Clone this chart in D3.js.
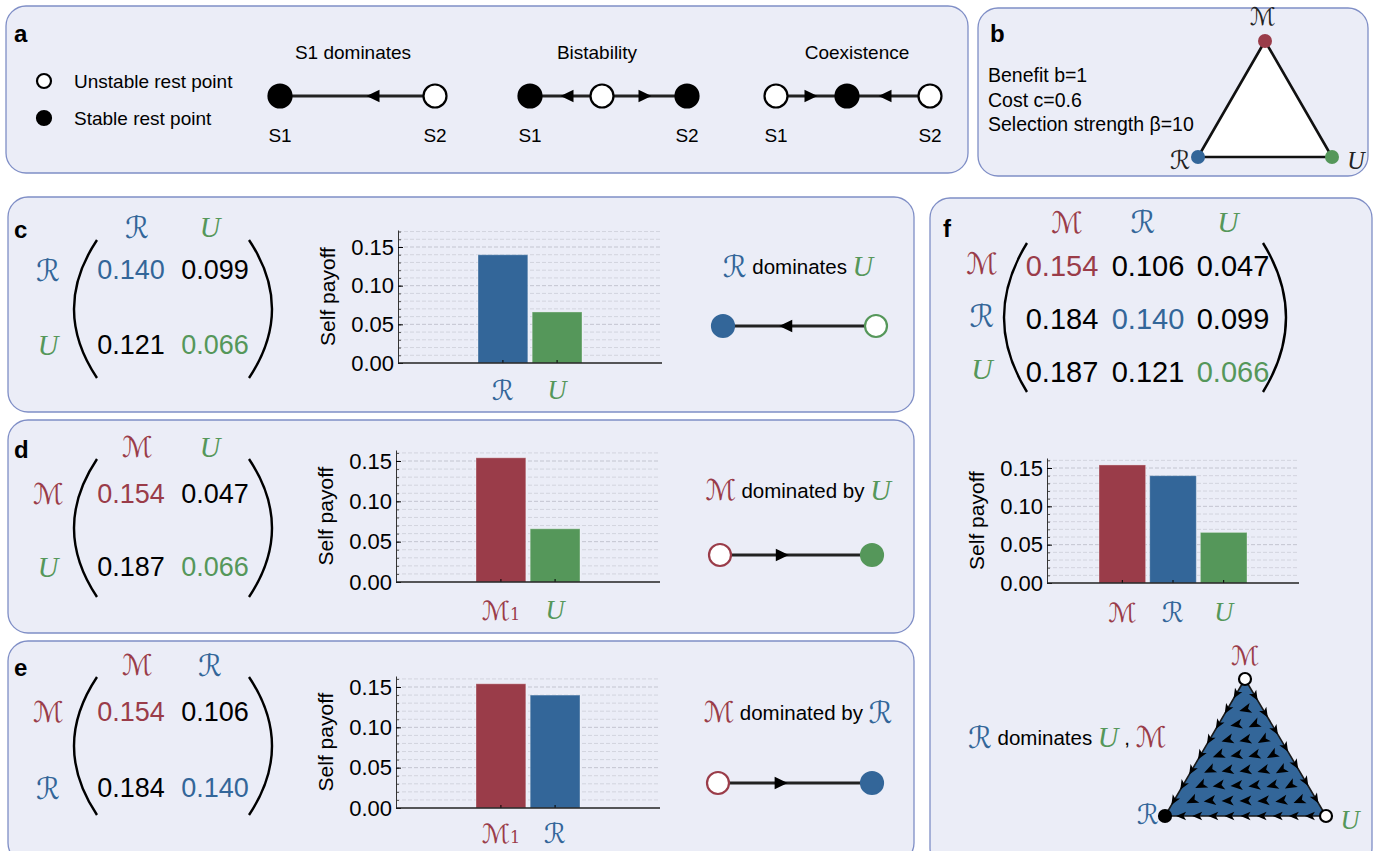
<!DOCTYPE html>
<html>
<head>
<meta charset="utf-8">
<script src="https://cdn.jsdelivr.net/npm/d3@7"></script>
<style>
  body { margin: 0; background: #fff; }
  text { font-family: "Liberation Sans", Arial, sans-serif; }
  .scr { font-family: "DejaVu Serif", "DejaVu Sans", serif; font-style: italic; }
  .scrU { font-family: "Liberation Serif", "DejaVu Serif", serif; font-style: italic; }
  .tag { font-weight: bold; font-size: 24px; }
</style>
</head>
<body>
<svg id="fig" width="1379" height="851"></svg>
<script>
"use strict";

// strategies, glyphs and colours
const strategies = ["M", "R", "U"];
const glyphs = { M: "ℳ", R: "ℛ", U: "U" };
const colours = { M: "#9a3c49", R: "#336699", U: "#55975a" };

// payoff of the row strategy against the column strategy (M, R, U)
const payoffM = [0.154, 0.106, 0.047];
const payoffR = [0.184, 0.140, 0.099];
const payoffU = [0.187, 0.121, 0.066];
const payoff = [payoffM, payoffR, payoffU];

// self payoff bars
const selfPayoff = [0.154, 0.140, 0.066];
const yTickValues = [0, 0.05, 0.10, 0.15];

const params = ["Benefit b=1", "Cost c=0.6", "Selection strength β=10"];
const legendItems = ["Unstable rest point", "Stable rest point"];

// panel a: the three kinds of phase lines
const schemeTitles = ["S1 dominates", "Bistability", "Coexistence"];
const schemeStable = [[true, false], [true, false, true], [false, true, false]];
const schemeArrows = [[-1], [-1, 1], [1, -1]];

// panels c, d, e compare two strategies
const pairs = [["R", "U"], ["M", "U"], ["M", "R"]];

// flow directions inside the simplex of f, read row by row from the top (degrees, 0 = right, 90 = down)
const flowRows = [
  [165],
  [170, 155],
  [165, 168, 150],
  [160, 170, 165, 150],
  [155, 168, 170, 165, 150],
  [155, 170, 175, 172, 165, 150],
  [155, 172, 178, 178, 175, 170, 158]
];

const svg = d3.select("#fig");
svg.append("rect").attr("width", 1379).attr("height", 851).attr("fill", "#fff");

const PANEL_FILL = "#ebedf7", PANEL_STROKE = "#7f8ec6";
const idx = s => strategies.indexOf(s);
const scrClass = key => key === "U" ? "scrU" : "scr";
const scrScale = { M: 1.1, R: 1.15, U: 1.1 };

function panel(x, y, w, h) {
  svg.append("rect").attr("x", x).attr("y", y).attr("width", w).attr("height", h)
    .attr("rx", 20).attr("fill", PANEL_FILL).attr("stroke", PANEL_STROKE).attr("stroke-width", 1.3);
}
function tag(t, x, y) {
  svg.append("text").attr("class", "tag").attr("x", x).attr("y", y)
    .attr("dominant-baseline", "central").text(t);
}
function scr(g, key, x, y, size, colour, anchor) {
  return g.append("text").attr("class", scrClass(key)).attr("x", x).attr("y", y)
    .attr("text-anchor", anchor || "middle").attr("dominant-baseline", "central")
    .attr("font-size", size * scrScale[key]).attr("fill", colour || colours[key]).text(glyphs[key]);
}
function scrSpan(t, key, size) {
  t.append("tspan").attr("class", scrClass(key))
    .attr("font-size", size * scrScale[key]).attr("fill", colours[key]).text(glyphs[key]);
}
function arrowHead(g, x, y, angle, len, notch) {
  const l = len || 11, w = l * (notch ? 0.42 : 0.48);
  const back = notch ? -l / 4 : -l / 2;
  g.append("path")
    .attr("d", `M${l / 2},0 L${-l / 2},${-w} L${back},0 L${-l / 2},${w} Z`)
    .attr("transform", `translate(${x},${y}) rotate(${angle})`)
    .attr("fill", "#000");
}
function restPoint(g, x, y, r, stable, colour) {
  g.append("circle").attr("cx", x).attr("cy", y).attr("r", r)
    .attr("fill", stable ? (colour || "#000") : "#fff")
    .attr("stroke", colour || "#000").attr("stroke-width", 2.2);
}
function paren(g, xTop, xMid, yTop, yBot) {
  const ctrl = 2 * xMid - xTop;
  g.append("path").attr("d", `M${xTop},${yTop} Q${ctrl},${(yTop + yBot) / 2} ${xTop},${yBot}`)
    .attr("fill", "none").attr("stroke", "#000").attr("stroke-width", 2.4);
}
// a strategy dominates another when it earns more against both
function dominates(a, b) {
  const i = idx(a), j = idx(b);
  return payoff[i][i] > payoff[j][i] && payoff[i][j] > payoff[j][j];
}

// ---------- panel a ----------
panel(6, 6, 962, 167);
tag("a", 14, 33);
const ga = svg.append("g");
legendItems.forEach((t, i) => {
  const y = [81, 118][i];
  restPoint(ga, 44, y, 7, i === 1);
  ga.append("text").attr("x", 74).attr("y", y).attr("dominant-baseline", "central")
    .attr("font-size", 19).text(t);
});
const schemeX = [[280, 435], [530, 602, 687], [776, 847, 930]];
const schemeArrowX = [[373], [567, 645], [811, 885]];
const schemeMid = [353, 597, 857];
schemeTitles.forEach((t, k) => {
  const xs = schemeX[k], y = 96;
  ga.append("text").attr("x", schemeMid[k]).attr("y", 52).attr("text-anchor", "middle")
    .attr("dominant-baseline", "central").attr("font-size", 19).text(t);
  ga.append("line").attr("x1", xs[0]).attr("x2", xs[xs.length - 1]).attr("y1", y).attr("y2", y)
    .attr("stroke", "#222").attr("stroke-width", 3);
  schemeArrows[k].forEach((d, i) => arrowHead(ga, schemeArrowX[k][i], y, d < 0 ? 180 : 0, 13));
  schemeStable[k].forEach((s, i) => restPoint(ga, xs[i], y, 11.5, s));
  ["S1", "S2"].forEach((s, i) => {
    ga.append("text").attr("x", i ? xs[xs.length - 1] : xs[0]).attr("y", 135)
      .attr("text-anchor", "middle").attr("dominant-baseline", "central").attr("font-size", 19).text(s);
  });
});

// ---------- panel b ----------
panel(978, 8, 390, 168);
tag("b", 990, 33);
const gb = svg.append("g");
params.forEach((p, i) => {
  gb.append("text").attr("x", 988).attr("y", 75 + i * 24.5).attr("dominant-baseline", "central")
    .attr("font-size", 19.5).text(p);
});
const bVert = { M: [1265, 41], R: [1198, 157], U: [1332, 157] };
gb.append("path")
  .attr("d", "M" + strategies.map(s => bVert[s].join(",")).join(" L") + " Z")
  .attr("fill", "#fff").attr("stroke", "#111").attr("stroke-width", 2.6);
strategies.forEach(s => {
  gb.append("circle").attr("cx", bVert[s][0]).attr("cy", bVert[s][1]).attr("r", 7).attr("fill", colours[s]);
});
scr(gb, "M", 1263, 17, 22, "#222");
scr(gb, "R", 1180, 160, 22, "#222");
scr(gb, "U", 1356, 160, 22, "#222");

// ---------- bar chart ----------
function barChart(g, cats, vals, c, subscript) {
  const yMax = 0.15 * (c.y0 - c.top) / (c.y0 - c.y15);
  const y = d3.scaleLinear().domain([0, yMax]).range([c.y0, c.top]);
  const centre = (c.left + c.right) / 2;
  const x = d3.scaleBand().domain(cats)
    .range([centre - c.barsW / 2, centre + c.barsW / 2]).paddingInner(0.08);
  const minor = d3.range(1, Math.floor(yMax * 100 + 1e-6) + 1).map(v => v / 100);

  g.append("g").selectAll("line").data(minor).join("line")
    .attr("x1", c.left).attr("x2", c.right).attr("y1", d => y(d)).attr("y2", d => y(d))
    .attr("stroke", d => Math.round(d * 100) % 5 === 0 ? "#c3c5d0" : "#d2d4de")
    .attr("stroke-width", 1).attr("stroke-dasharray", "4,2");

  g.append("g").selectAll("rect").data(cats).join("rect")
    .attr("x", d => x(d)).attr("y", (d, i) => y(vals[i]))
    .attr("width", x.bandwidth()).attr("height", (d, i) => c.y0 - y(vals[i]))
    .attr("fill", d => colours[d]).attr("stroke", "#fff").attr("stroke-opacity", 0.35);

  const minorAxis = g.append("g").attr("transform", `translate(${c.left},0)`)
    .call(d3.axisLeft(y).tickValues(minor).tickSize(-3).tickFormat(""));
  minorAxis.select(".domain").remove();
  minorAxis.selectAll("line").attr("stroke", "#555");
  const yAxis = g.append("g").attr("transform", `translate(${c.left},0)`)
    .call(d3.axisLeft(y).tickValues(yTickValues).tickFormat(d3.format(".2f"))
      .tickSize(-5).tickSizeOuter(0).tickPadding(4));
  yAxis.selectAll("text").attr("font-size", c.font).attr("font-family", "Liberation Sans, Arial")
    .attr("fill", "#000");
  yAxis.select(".domain").attr("stroke", "#333");

  const xAxis = g.append("g").attr("transform", `translate(0,${c.y0})`)
    .call(d3.axisBottom(x).tickSize(-3).tickFormat(""));
  xAxis.select(".domain").remove();
  g.append("line").attr("x1", c.left).attr("x2", c.right).attr("y1", c.y0).attr("y2", c.y0)
    .attr("stroke", "#222").attr("stroke-width", 1.3);

  cats.forEach(d => {
    const t = scr(g, d, x(d) + x.bandwidth() / 2, c.labelY, 24);
    if (subscript && d === "M") {
      t.append("tspan").attr("font-style", "normal").attr("font-family", "DejaVu Serif")
        .attr("font-size", 16).attr("dy", 4).text("1");
    }
  });
  g.append("text").attr("transform", `translate(${c.left - 71},${(c.y0 + c.top) / 2}) rotate(-90)`)
    .attr("text-anchor", "middle").attr("dominant-baseline", "central").attr("font-size", 21)
    .text("Self payoff");
}

// ---------- panels c, d, e ----------
const pairLayout = [
  { tag: "c", box: [8, 197, 906, 215], tagY: 229, headY: 227, rowY: [270, 345], paren: [240, 378],
    chart: { left: 398, right: 662, y0: 363, y15: 247, top: 230, labelY: 390, barsW: 104, font: 22 },
    textY: 266, lineY: 326, lineX: [723, 876], sub: false },
  { tag: "d", box: [8, 420, 906, 213], tagY: 449, headY: 447, rowY: [494, 567], paren: [459, 597],
    chart: { left: 396, right: 660, y0: 582, y15: 461, top: 450, labelY: 610, barsW: 104, font: 22 },
    textY: 490, lineY: 555, lineX: [720, 872], sub: true },
  { tag: "e", box: [8, 641, 906, 222], tagY: 667, headY: 665, rowY: [712, 788], paren: [677, 815],
    chart: { left: 396, right: 660, y0: 808, y15: 687, top: 676, labelY: 833, barsW: 104, font: 22 },
    textY: 712, lineY: 783, lineX: [718, 872], sub: true }
];

pairs.forEach((pair, k) => {
  const L = pairLayout[k];
  panel(...L.box);
  tag(L.tag, 14, L.tagY);
  const g = svg.append("g");
  const colX = [131, 215], headX = [137, 210];
  pair.forEach((s, i) => {
    scr(g, s, headX[i], L.headY, 26);
    scr(g, s, 48, L.rowY[i], 26);
    pair.forEach((t, j) => {
      const v = payoff[idx(s)][idx(t)];
      g.append("text").attr("x", colX[j]).attr("y", L.rowY[i]).attr("text-anchor", "middle")
        .attr("dominant-baseline", "central").attr("font-size", 27)
        .attr("fill", i === j ? colours[s] : "#000").text(v.toFixed(3));
    });
  });
  paren(g, 97, 74, L.paren[0], L.paren[1]);
  paren(g, 249, 272, L.paren[0], L.paren[1]);

  barChart(g, pair, pair.map(s => selfPayoff[idx(s)]), L.chart, L.sub);

  // phase line of the pair
  const firstWins = dominates(pair[0], pair[1]);
  const txt = g.append("text").attr("x", 798).attr("y", L.textY).attr("text-anchor", "middle")
    .attr("dominant-baseline", "central").attr("font-size", 20.5);
  scrSpan(txt, pair[0], 26);
  txt.append("tspan").text(firstWins ? " dominates " : " dominated by ");
  scrSpan(txt, pair[1], 26);

  const [x1, x2] = L.lineX, y = L.lineY;
  g.append("line").attr("x1", x1).attr("x2", x2).attr("y1", y).attr("y2", y)
    .attr("stroke", "#222").attr("stroke-width", 3);
  arrowHead(g, x1 + (x2 - x1) * 0.41, y, firstWins ? 180 : 0, 13);
  restPoint(g, x1, y, 11, firstWins, colours[pair[0]]);
  restPoint(g, x2, y, 11, !firstWins, colours[pair[1]]);
});

// ---------- panel f ----------
panel(930, 198, 442, 670);
tag("f", 943, 228);
const gf = svg.append("g");
const fColX = [1062, 1148, 1233], fHeadX = [1067, 1143, 1228], fRowY = [266, 319, 372];
strategies.forEach((s, i) => {
  scr(gf, s, fHeadX[i], 222, 27);
  scr(gf, s, 982, fRowY[i] - 3, 27);
  strategies.forEach((t, j) => {
    gf.append("text").attr("x", fColX[j]).attr("y", fRowY[i]).attr("text-anchor", "middle")
      .attr("dominant-baseline", "central").attr("font-size", 29)
      .attr("fill", i === j ? colours[s] : "#000").text(payoff[i][j].toFixed(3));
  });
});
paren(gf, 1027, 1004, 243, 392);
paren(gf, 1263, 1286, 243, 392);

barChart(gf, strategies, selfPayoff,
  { left: 1047, right: 1299, y0: 583, y15: 468, top: 458, labelY: 612, barsW: 148, font: 22 }, false);

// simplex with flow
const V = { M: [1245, 679], R: [1165, 816], U: [1326, 816] };
const toXY = (m, r, u) => [m * V.M[0] + r * V.R[0] + u * V.U[0], m * V.M[1] + r * V.R[1] + u * V.U[1]];
gf.append("path")
  .attr("d", `M${V.M} L${V.R} L${V.U} Z`)
  .attr("fill", colours.R).attr("stroke", "#1a1a1a").attr("stroke-width", 1.6);

const n = 9;
flowRows.forEach((row, r) => {
  const t = r + 2;
  row.forEach((a, i) => {
    const u = (i + 1) / n, m = (n - t) / n, rr = 1 - m - u;
    const [x, y] = toXY(m, rr, u);
    arrowHead(gf, x, y, a, 12, true);
  });
});
// edge flows follow who dominates on each edge
function edgeArrows(a, b, count) {
  const from = dominates(a, b) ? b : a, to = dominates(a, b) ? a : b;
  const ang = Math.atan2(V[to][1] - V[from][1], V[to][0] - V[from][0]) * 180 / Math.PI;
  for (let i = 1; i <= count; i++) {
    const f = i / (count + 1);
    arrowHead(gf, V[a][0] + (V[b][0] - V[a][0]) * f, V[a][1] + (V[b][1] - V[a][1]) * f, ang, 10, true);
  }
}
edgeArrows("M", "R", 8);
edgeArrows("M", "U", 7);
edgeArrows("U", "R", 9);

strategies.forEach(s => {
  const stable = strategies.every(o => o === s || dominates(s, o));
  restPoint(gf, V[s][0], V[s][1], 6, stable);
});
scr(gf, "M", 1245, 655, 24);
scr(gf, "R", 1148, 814, 24);
scr(gf, "U", 1350, 820, 24);

const ft = gf.append("text").attr("x", 968).attr("y", 737).attr("dominant-baseline", "central")
  .attr("font-size", 20.5);
scrSpan(ft, "R", 26);
ft.append("tspan").text(" dominates ");
scrSpan(ft, "U", 26);
ft.append("tspan").text(" , ");
scrSpan(ft, "M", 26);
</script>
</body>
</html>
